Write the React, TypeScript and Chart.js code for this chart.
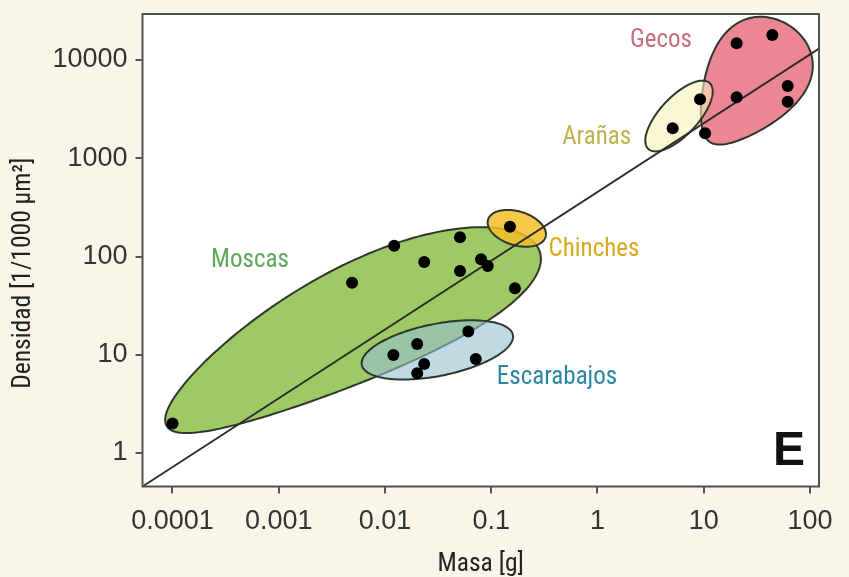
import React, { useEffect, useRef } from 'react';
import { Chart, registerables } from 'chart.js';
Chart.register(...registerables);

// ---- axes ----
const xTickValues = [0.0001, 0.001, 0.01, 0.1, 1, 10, 100];
const xTickLabels = ['0.0001', '0.001', '0.01', '0.1', '1', '10', '100'];
const yTickValues = [1, 10, 100, 1000, 10000];
const yTickLabels = ['1', '10', '100', '1000', '10000'];
const xRange = [0.0000522, 121.6];
const yRange = [0.456, 29400];

// ---- data (mass g, density 1/1000 µm²) ----
const moscasMass = [0.0001, 0.0049, 0.0122, 0.0234, 0.0508, 0.0508, 0.0802, 0.0927, 0.167];
const moscasDensity = [2.0, 54, 129, 88, 157, 71, 94, 80, 47.5];
const escarabajosMass = [0.012, 0.0201, 0.0234, 0.0201, 0.0608, 0.0715];
const escarabajosDensity = [9.95, 12.9, 8.05, 6.47, 17.2, 9.05];
const chinchesMass = [0.15];
const chinchesDensity = [201];
const aranasMass = [5.1, 9.23];
const aranasDensity = [2018, 3981];
const gecosMass = [10.3, 20.4, 20.4, 44.2, 61.7, 61.7];
const gecosDensity = [1795, 4170, 14790, 17960, 5435, 3766];

// regression line end points
const fitMass = [0.0000522, 121.6];
const fitDensity = [0.456, 13060];

// group labels
const labelNames = ['Gecos', 'Arañas', 'Chinches', 'Moscas', 'Escarabajos'];
const labelMass = [3.96, 0.983, 0.927, 0.000536, 0.416];
const labelDensity = [15600, 1626, 116.5, 90, 5.8];
const labelColors = ['#c96f79', '#c2b24f', '#d9a91c', '#5da85a', '#2a86a2'];

// group hulls (centre in data units, semi-axis vectors in decades)
const hullCentreMass = [0.00469, 0.0311, 0.174, 27.25, 5.85];
const hullCentreDensity = [17.04, 11.2, 193.6, 5697, 2692];
const hullAxisA = [[1.753, 0.896], [0.711, 0.153], [0.273, -0.041], [0.3765, 0.5903], [0.289, 0.335]];
const hullAxisB = [[-0.229, 0.524], [-0.048, 0.26], [-0.028, 0.183], [0.368, -0.2656], [0.131, -0.132]];
const hullTaper = [0.2, 0, 0, 0.35, 0];
const hullBend = [0.2, 0, 0, 0, 0];
const hullFill = [
  'rgba(150,196,88,0.92)',
  'rgba(150,193,210,0.6)',
  'rgba(243,190,40,0.85)',
  'rgba(234,120,136,0.9)',
  'rgba(248,242,185,0.6)',
];

const condensed = "'Liberation Sans Narrow', 'Arial Narrow', 'Roboto Condensed', 'DejaVu Sans Condensed', Roboto, sans-serif";
const regular = "'Liberation Sans', Arial, Helvetica, sans-serif";

const pts = (xs: number[], ys: number[]) => xs.map((x, i) => ({ x, y: ys[i] }));

const decor = {
  id: 'decor',
  beforeDraw(chart: any) {
    const { ctx, chartArea: a } = chart;
    ctx.save();
    ctx.fillStyle = '#ffffff';
    ctx.fillRect(a.left, a.top, a.right - a.left, a.bottom - a.top);
    ctx.restore();
  },
  beforeDatasetsDraw(chart: any) {
    const { ctx, chartArea: a } = chart;
    const xs = chart.scales.x, ys = chart.scales.y;
    ctx.save();
    ctx.beginPath();
    ctx.rect(a.left, a.top, a.right - a.left, a.bottom - a.top);
    ctx.clip();
    for (let h = 0; h < hullCentreMass.length; h++) {
      const cu = Math.log10(hullCentreMass[h]);
      const cv = Math.log10(hullCentreDensity[h]);
      const A = hullAxisA[h], B = hullAxisB[h], k = hullTaper[h], bend = hullBend[h];
      ctx.beginPath();
      const N = 180;
      for (let i = 0; i <= N; i++) {
        const t = (i / N) * Math.PI * 2;
        const s = Math.sin(t), c = Math.cos(t);
        const w = s * (1 + k * c) + bend * (s * s - 0.5);
        const u = cu + A[0] * c + B[0] * w;
        const v = cv + A[1] * c + B[1] * w;
        const px = xs.getPixelForValue(Math.pow(10, u));
        const py = ys.getPixelForValue(Math.pow(10, v));
        if (i === 0) ctx.moveTo(px, py); else ctx.lineTo(px, py);
      }
      ctx.closePath();
      ctx.fillStyle = hullFill[h];
      ctx.fill();
      ctx.lineWidth = 2;
      ctx.strokeStyle = '#2e372b';
      ctx.stroke();
    }
    ctx.restore();
  },
  afterDraw(chart: any) {
    const { ctx, chartArea: a } = chart;
    const xs = chart.scales.x, ys = chart.scales.y;
    ctx.save();
    // frame
    ctx.strokeStyle = '#505050';
    ctx.lineWidth = 2;
    ctx.strokeRect(a.left, a.top, a.right - a.left, a.bottom - a.top);
    // group labels
    ctx.font = `25px ${condensed}`;
    ctx.textAlign = 'center';
    ctx.textBaseline = 'middle';
    labelNames.forEach((n, i) => {
      ctx.fillStyle = labelColors[i];
      ctx.fillText(n, xs.getPixelForValue(labelMass[i]), ys.getPixelForValue(labelDensity[i]));
    });
    // panel letter
    ctx.fillStyle = '#111';
    ctx.font = `bold 48px ${regular}`;
    ctx.textAlign = 'right';
    ctx.textBaseline = 'alphabetic';
    ctx.fillText('E', a.right - 14, a.bottom - 21.5);
    // y axis title
    ctx.translate(24, (a.top + a.bottom) / 2 + 23);
    ctx.rotate(-Math.PI / 2);
    ctx.font = `25.5px ${condensed}`;
    ctx.fillStyle = '#222';
    ctx.textAlign = 'center';
    ctx.textBaseline = 'middle';
    ctx.fillText('Densidad [1/1000 µm²]', 0, 0);
    ctx.restore();
  },
};

export default function App() {
  const ref = useRef<HTMLCanvasElement>(null);
  useEffect(() => {
    if (!ref.current) return;
    const pointStyle = { pointRadius: 6, pointBackgroundColor: '#000', pointBorderWidth: 0, showLine: false, order: 0 };
    const chart = new Chart(ref.current, {
      type: 'scatter',
      data: {
        datasets: [
          { label: 'Moscas', data: pts(moscasMass, moscasDensity), ...pointStyle },
          { label: 'Escarabajos', data: pts(escarabajosMass, escarabajosDensity), ...pointStyle },
          { label: 'Chinches', data: pts(chinchesMass, chinchesDensity), ...pointStyle },
          { label: 'Arañas', data: pts(aranasMass, aranasDensity), ...pointStyle },
          { label: 'Gecos', data: pts(gecosMass, gecosDensity), ...pointStyle },
          {
            label: 'Ajuste', data: pts(fitMass, fitDensity), showLine: true, pointRadius: 0,
            borderColor: '#2b2b2b', borderWidth: 1.8, order: 1,
          },
        ] as any,
      },
      options: {
        animation: false,
        responsive: false,
        events: [],
        layout: { padding: { left: 0, top: 14, right: 30, bottom: 0 } },
        plugins: { legend: { display: false }, tooltip: { enabled: false } },
        scales: {
          x: {
            type: 'logarithmic',
            min: xRange[0],
            max: xRange[1],
            afterBuildTicks: (s: any) => { s.ticks = xTickValues.map((v) => ({ value: v })); },
            afterFit: (s: any) => { s.height = 90.5; s.paddingLeft = 0; s.paddingRight = 0; },
            ticks: {
              callback: (_v: any, i: number) => xTickLabels[i],
              autoSkip: false, maxRotation: 0, padding: 12, color: '#333',
              font: { family: regular, size: 27 },
            },
            grid: { drawOnChartArea: false, drawTicks: true, tickLength: 7, color: '#555', lineWidth: 2 },
            border: { display: false },
            title: {
              display: true, text: 'Masa [g]', color: '#222',
              font: { family: condensed, size: 25.5, lineHeight: 1 }, padding: { top: 0, bottom: 0 },
            },
          },
          y: {
            type: 'logarithmic',
            min: yRange[0],
            max: yRange[1],
            afterBuildTicks: (s: any) => { s.ticks = yTickValues.map((v) => ({ value: v })); },
            afterFit: (s: any) => { s.width = 142.5; s.paddingTop = 0; s.paddingBottom = 0; },
            ticks: {
              callback: (_v: any, i: number) => yTickLabels[i],
              autoSkip: false, padding: 8, color: '#333',
              font: { family: regular, size: 27 },
            },
            grid: { drawOnChartArea: false, drawTicks: true, tickLength: 7, color: '#555', lineWidth: 2 },
            border: { display: false },
          },
        },
      } as any,
      plugins: [decor],
    });
    return () => chart.destroy();
  }, []);
  return (
    <div style={{ position: 'fixed', left: 0, top: 0, width: 849, height: 577, background: '#f8f6e9' }}>
      <canvas ref={ref} width={849} height={577} style={{ display: 'block' }} />
    </div>
  );
}
